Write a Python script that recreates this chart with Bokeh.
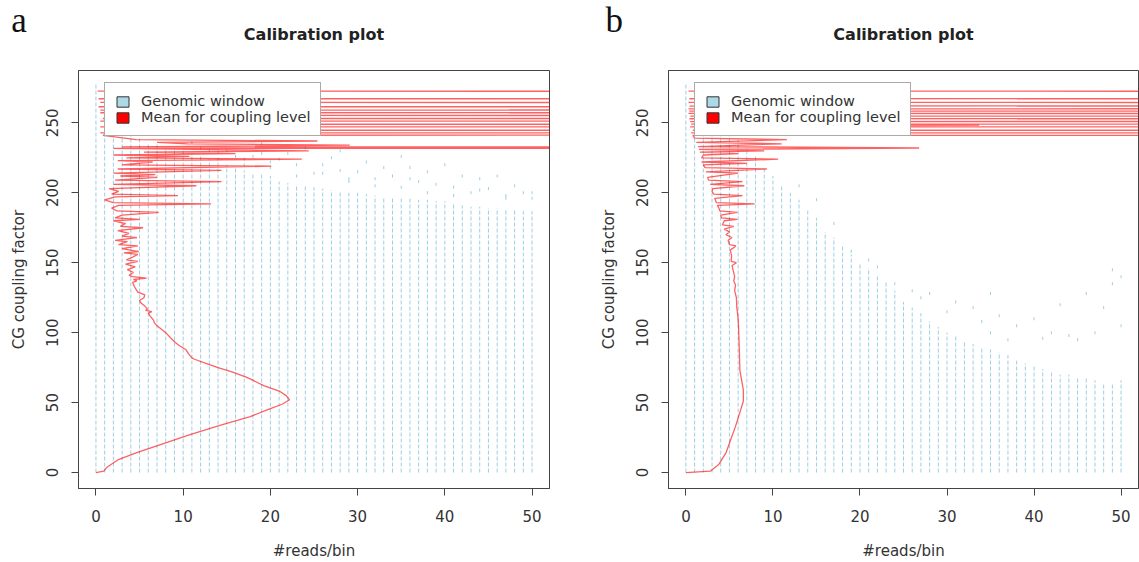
from bokeh.plotting import figure
from bokeh.models import Range1d, FixedTicker, Legend, LegendItem
from bokeh.layouts import row, column
from bokeh.embed import file_html
from bokeh.resources import INLINE
from bokeh.core.properties import value

# ---------------- data ----------------
read_counts = list(range(0, 51))
x_ticks = [0, 10, 20, 30, 40, 50]
y_ticks = [0, 50, 100, 150, 200, 250]
panel_letters = ["a", "b"]
panel_titles = ["Calibration plot", "Calibration plot"]

# top of the dense "genomic window" column for each #reads/bin value
a_column_top = [278, 272, 262, 255, 245, 240, 236, 235, 232, 232, 230, 228, 226, 224, 222, 220,
                218, 216, 214, 213, 212, 208, 207, 206, 205, 204, 203, 202, 201, 200, 200,
                199, 198, 197, 197, 196, 196, 195, 195, 194, 194, 192, 191, 190, 190, 189,
                189, 188, 188, 187, 187]
b_column_top = [278, 276, 268, 262, 250, 244, 238, 232, 226, 218, 212, 205, 200, 195, 188, 182,
                172, 168, 162, 156, 150, 146, 141, 136, 130, 122, 118, 114, 108, 104, 100,
                98, 94, 92, 90, 88, 86, 84, 80, 78, 76, 74, 72, 70, 70, 68, 68, 66, 64, 64, 66]

# isolated windows above the dense columns
a_sparse_x = [11, 12, 13, 14, 15, 16, 17, 18, 19, 20, 21, 22, 23, 24, 25, 26, 27, 28, 29, 30,
              31, 32, 33, 34, 35, 36, 37, 38, 39, 40, 41, 42, 43, 44, 45, 46, 47, 48, 49, 50,
              14, 17, 20, 23, 26, 29, 32, 35, 38, 41, 44, 47, 50, 19, 28, 36]
a_sparse_y = [236, 232, 230, 229, 230, 226, 224, 226, 235, 222, 224, 228, 220, 232, 214, 220,
              225, 230, 210, 215, 222, 205, 218, 212, 226, 210, 208, 215, 206, 220, 204, 212,
              200, 210, 203, 212, 198, 205, 200, 200, 224, 220, 218, 212, 214, 208, 210, 204,
              200, 198, 202, 196, 196, 228, 216, 218]
b_sparse_x = [19, 21, 22, 24, 26, 27, 28, 30, 31, 33, 34, 35, 35, 36, 37, 38, 40, 41, 42, 43,
              44, 45, 46, 47, 48, 49, 49, 50, 50, 13, 15, 17]
b_sparse_y = [158, 152, 147, 135, 130, 125, 128, 115, 122, 118, 108, 128, 100, 112, 95, 105,
              110, 96, 100, 120, 98, 95, 128, 100, 118, 145, 135, 140, 105, 205, 195, 178]

# mean #reads/bin for each coupling level (1000 = far beyond the axis)
a_level = [0, 1, 4, 9, 14, 20, 27, 34, 40, 45, 49, 52, 55, 58, 62, 68, 72, 75, 78, 81,
           82, 85, 88, 91, 93, 96, 100, 103, 105, 107, 109, 112, 114, 115, 116, 117, 119, 121,
           123, 125, 127, 129, 131, 133, 136, 137, 138, 139, 140, 141, 143, 145, 147, 149, 151,
           152, 154, 156, 157, 158, 160, 162, 163, 165, 166, 168, 169, 171, 173, 175, 176, 178,
           180, 181, 182, 184, 186, 187, 189, 191, 192, 193, 195, 197, 198, 199, 201, 203, 205,
           206, 208, 209, 211, 212, 213, 214, 216, 217, 219, 220, 222, 223, 224, 225, 226, 227,
           228, 229, 230,
           231.8, 232.3, 232.8, 234, 235, 236, 237, 238,
           241.1, 242.0, 242.8, 243.7, 244.7, 245.9, 247.1, 248.0, 249.0, 250.1,
           251.2, 252.1, 253.1, 254.2, 255.3, 256.2, 257.2, 258.1, 259.1, 260.3,
           261.5, 263.0, 264.6, 265.9, 267.2, 270.0, 272.7, 273.0]
a_mean = [0, 0.9, 1.3, 2.5, 4.6, 7.4, 10.7, 14.4, 17.7, 19.7,
          21.4, 22.2, 21.8, 21.1, 19.3, 17.3, 15.6, 14.0, 12.6, 11.3,
          11.0, 10.6, 10.3, 9.5, 9.1, 8.6, 8.0, 7.4, 7.0, 6.7,
          6.6, 6.2, 6.0, 6.4, 5.7, 5.9, 5.6, 5.2, 5.0, 5.5,
          5.6, 4.8, 4.6, 4.4, 4.2, 4.7, 4.3, 5.8, 4.2, 3.8,
          4.3, 3.6, 4.5, 3.4, 4.8, 3.5, 4.2, 4.8, 3.2, 4.9,
          3.0, 4.8, 2.6, 3.6, 2.2, 4.7, 3.0, 3.8, 2.5, 5.4,
          2.8, 3.4, 2.0, 5.0, 2.2, 3.0, 7.2, 2.4, 1.8, 2.6,
          13.2, 2.0, 1.0, 2.2, 9.4, 1.8, 2.6, 1.5, 11.5, 2.0,
          14.4, 2.2, 7.0, 2.8, 6.8, 2.0, 14.4, 2.5, 20.1, 3.0,
          6.5, 2.5, 23.6, 3.5, 10.7, 2.0, 16.0, 5.5, 24.4,
          2.0, 1000, 3.0, 29.1, 10.5, 7.0, 25.4, 4.6,
          0.8, 1000, 0.5, 1000, 1.0, 1000, 0.5, 1000, 1.5, 1000,
          0.5, 1000, 0.8, 1000, 1.0, 1000, 0.5, 1000, 0.5, 1000,
          0.3, 1000, 0.5, 1000, 0.3, 1000, 0.2, 1000]

b_level = [0, 1, 6, 14, 21, 33, 45, 51, 59, 66, 73, 85, 95, 104, 110, 118, 125, 130, 134, 137,
           140, 144, 148, 150, 151, 155, 159, 162, 163, 166, 168, 170, 172, 174, 176, 177, 180,
           181, 182, 184, 186, 187, 189, 191, 192, 193, 196, 198, 199, 201, 203, 205, 206, 208,
           209, 211, 214, 215, 217, 218, 220, 221, 222, 224, 225, 227, 228, 229, 230, 231, 232,
           233, 235, 236, 238,
           239, 241.0, 241.9, 242.8, 243.7, 244.7, 245.9, 247.1, 248.3, 249.0, 249.9, 250.9,
           251.9, 252.9, 253.8, 254.8, 255.7, 256.7, 257.5, 258.4, 259.2, 260.0, 261.0, 262.0,
           263.3, 264.6, 265.9, 267.2, 270.0, 272.7, 273.0]
b_mean = [0, 2.8, 3.8, 4.6, 5.0, 5.7, 6.3, 6.6, 6.6, 6.4, 6.2, 6.15, 6.1, 6.05, 6.0, 5.85, 5.8,
          5.6, 5.7, 5.5, 5.6, 5.45, 5.3, 5.8, 5.2, 5.25, 5.1, 5.75, 5.0, 4.85, 5.3, 4.6, 5.0,
          4.4, 5.5, 4.2, 4.4, 5.9, 4.1, 4.0, 5.9, 3.9, 3.8, 3.6, 7.9, 3.5, 3.3, 6.5, 3.2, 3.0,
          3.1, 6.7, 2.8, 6.5, 2.6, 2.5, 6.0, 2.3, 9.3, 2.2, 2.0, 7.0, 1.8, 10.6, 1.8, 2.0, 6.0,
          1.6, 9.0, 1.5, 26.8, 1.4, 11.0, 1.2, 11.6,
          1.0, 0.8, 1000, 0.6, 1000, 0.8, 1000, 0.5, 33.7, 0.6, 1000, 0.5,
          1000, 0.4, 1000, 0.5, 1000, 0.3, 1000, 0.4, 1000, 0.3, 1000, 0.4,
          1000, 0.3, 1000, 0.4, 1000, 0.3, 1000]

TEXT = "#333333"
FONT = "DejaVu Sans"
BLUE = "#9ccfe3"
W = 1139
H = 562
HEADER_H = 48
WIDTH_A, WIDTH_B = 580, 559
LEFT_A, LEFT_B = 78, 88
FRAME_A, FRAME_B = 471, 470


def make_header():
    h = figure(width=W, height=HEADER_H, output_backend="svg", toolbar_location=None,
               x_range=Range1d(0, W), y_range=Range1d(0, HEADER_H),
               x_axis_type=None, y_axis_type=None,
               min_border_left=0, min_border_right=0, min_border_top=0, min_border_bottom=0)
    h.title.text = ""
    h.title.text_font_size = "0px"
    h.title.standoff = 0
    try:
        h.title_location = None
    except Exception:
        pass
    if "frame_align" in h.properties():
        h.frame_align = False
    h.outline_line_color = None
    # vertical positions are text middles, measured from the header's top
    h.text(x=[10.7, WIDTH_A + 25], y=[HEADER_H - 20, HEADER_H - 20], text=panel_letters,
           text_font=value("Liberation Serif"), text_font_size="35px",
           text_color="#111111", text_align="left", text_baseline="middle")
    h.text(x=[LEFT_A + FRAME_A / 2, WIDTH_A + LEFT_B + FRAME_B / 2],
           y=[HEADER_H - 34, HEADER_H - 34], text=panel_titles,
           text_font=value(FONT), text_font_size="16px", text_font_style="bold",
           text_color="#222222", text_align="center", text_baseline="middle")
    return h


def panel(level, mean, col_top, sx, sy, width, border_left, border_right):
    p = figure(width=width, height=H - HEADER_H, output_backend="svg",
               toolbar_location=None,
               x_range=Range1d(-2, 52), y_range=Range1d(-11.4, 287.4),
               min_border_left=border_left, min_border_right=border_right,
               min_border_top=70 - HEADER_H, min_border_bottom=74)
    p.outline_line_color = "#444444"
    p.outline_line_width = 1
    p.xgrid.visible = False
    p.ygrid.visible = False

    for ax in (p.xaxis[0], p.yaxis[0]):
        ax.minor_tick_line_color = None
        ax.major_tick_in = 0
        ax.major_tick_out = 7
        ax.axis_line_color = "#444444"
        ax.major_tick_line_color = "#444444"
        ax.major_label_text_font = FONT
        ax.major_label_text_font_size = "15px"
        ax.major_label_text_color = TEXT
        ax.axis_label_text_font = FONT
        ax.axis_label_text_font_size = "15px"
        ax.axis_label_text_font_style = "normal"
        ax.axis_label_text_color = TEXT
    p.xaxis.ticker = FixedTicker(ticks=x_ticks)
    p.yaxis.ticker = FixedTicker(ticks=y_ticks)
    p.xaxis.axis_label = "#reads/bin"
    p.yaxis.axis_label = "CG coupling factor"
    p.xaxis.major_label_standoff = 14
    p.xaxis.axis_label_standoff = 17
    p.yaxis.major_label_orientation = "vertical"
    p.yaxis.major_label_standoff = 13
    p.yaxis.axis_label_standoff = 16

    base = [0 for _ in read_counts]
    p.segment(x0=read_counts, y0=base, x1=read_counts, y1=col_top,
              line_color=BLUE, line_width=1, line_dash="4 2")
    p.rect(x=sx, y=sy, width=1, height=3, width_units="screen", height_units="screen",
           fill_color=BLUE, line_color=None)
    p.line(x=mean, y=level, line_color="#ff0000", line_alpha=0.62, line_width=1.3)

    # legend keys (hidden renderers, only their swatches are shown)
    k0 = read_counts[:1]
    key_blue = p.quad(left=k0, right=k0, top=base[:1], bottom=base[:1],
                      fill_color="#add8e6", line_color="#333333", line_width=1,
                      visible=False)
    key_red = p.quad(left=k0, right=k0, top=base[:1], bottom=base[:1],
                     fill_color="#ff0000", line_color="#333333", line_width=1,
                     visible=False)
    legend = Legend(items=[LegendItem(label="Genomic window", renderers=[key_blue]),
                           LegendItem(label="Mean for coupling level", renderers=[key_red])],
                    location=(26, 352), margin=0, padding=10, spacing=0,
                    label_height=16, glyph_height=13, glyph_width=15, label_standoff=11,
                    label_text_font=FONT, label_text_font_size="14.5px",
                    label_text_color=TEXT, border_line_color="#555555",
                    border_line_width=1, background_fill_color="white",
                    background_fill_alpha=1.0, inactive_fill_alpha=0.0)
    p.add_layout(legend)
    return p


header = make_header()
pa = panel(a_level, a_mean, a_column_top, a_sparse_x, a_sparse_y, WIDTH_A, LEFT_A,
           WIDTH_A - LEFT_A - FRAME_A)
pb = panel(b_level, b_mean, b_column_top, b_sparse_x, b_sparse_y, WIDTH_B, LEFT_B,
           WIDTH_B - LEFT_B - FRAME_B)

layout = column(header, row(pa, pb))
open("out.html", "w").write(file_html(layout, INLINE))
